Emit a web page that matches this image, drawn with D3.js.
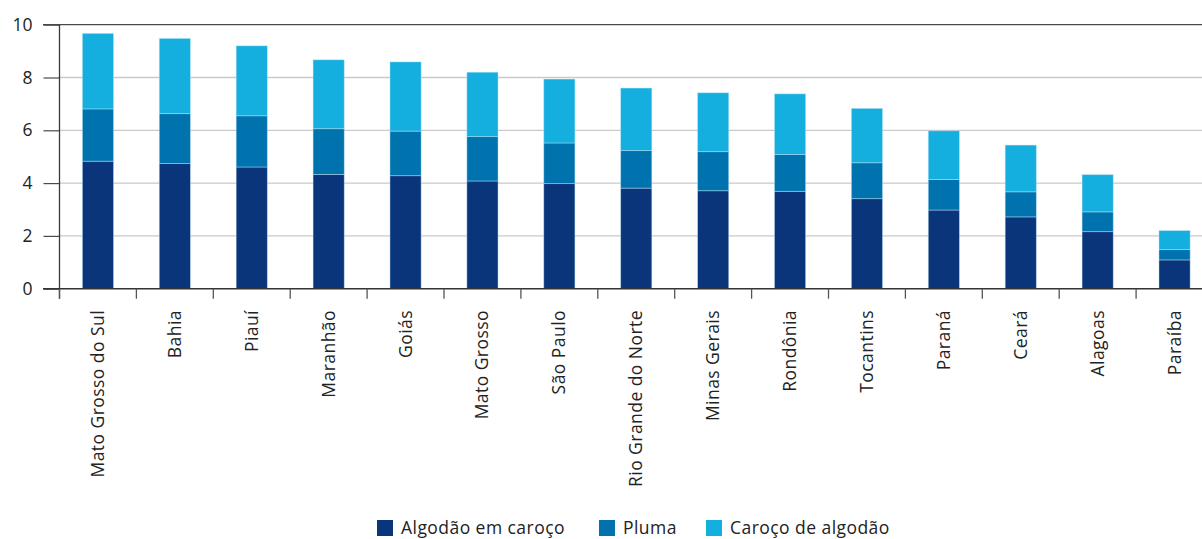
<!DOCTYPE html>
<html>
<head>
<meta charset="utf-8">
<script src="https://cdn.jsdelivr.net/npm/d3@7"></script>
<style>
  html, body { margin: 0; padding: 0; background: #fff; }
  svg { display: block; font-family: "Open Sans", "Noto Sans", sans-serif; }
</style>
</head>
<body>
<svg id="chart" width="1202" height="539"></svg>
<script>
const categories = ["Mato Grosso do Sul", "Bahia", "Piauí", "Maranhão", "Goiás", "Mato Grosso", "São Paulo", "Rio Grande do Norte", "Minas Gerais", "Rondônia", "Tocantins", "Paraná", "Ceará", "Alagoas", "Paraíba"];
const algodaoEmCaroco = [4.83, 4.74, 4.61, 4.33, 4.28, 4.08, 3.98, 3.81, 3.71, 3.69, 3.41, 2.98, 2.72, 2.16, 1.09];
const pluma = [1.98, 1.89, 1.94, 1.73, 1.69, 1.68, 1.54, 1.42, 1.48, 1.39, 1.36, 1.16, 0.95, 0.75, 0.39];
const carocoDeAlgodao = [2.86, 2.85, 2.65, 2.61, 2.62, 2.44, 2.42, 2.37, 2.23, 2.30, 2.06, 1.84, 1.77, 1.41, 0.72];
const seriesNames = ["Algodão em caroço", "Pluma", "Caroço de algodão"];
const seriesColors = ["#0b357b", "#0073ae", "#14afde"];
const yTicks = [0, 2, 4, 6, 8, 10];

const svg = d3.select("#chart");
const W = 1202;
const mLeft = 59.5, mTop = 24.7, mBottom = 288.7;

const data = categories.map((c, i) => ({
  cat: c,
  [seriesNames[0]]: algodaoEmCaroco[i],
  [seriesNames[1]]: pluma[i],
  [seriesNames[2]]: carocoDeAlgodao[i]
}));
const stack = d3.stack().keys(seriesNames)(data);

const x = d3.scaleBand().domain(categories).range([mLeft, mLeft + 15 * 76.9]).paddingInner(0).paddingOuter(0);
const y = d3.scaleLinear().domain([0, 10]).range([mBottom, mTop]);
const barW = x.bandwidth() * 0.405;

// gridlines
svg.append("g").selectAll("line").data(yTicks.filter(t => t > 0 && t < 10)).join("line")
  .attr("x1", mLeft).attr("x2", W).attr("y1", d => y(d)).attr("y2", d => y(d))
  .attr("stroke", "#c9c9c9").attr("stroke-width", 1.3);
// top line
svg.append("line").attr("x1", 43).attr("x2", W).attr("y1", y(10)).attr("y2", y(10))
  .attr("stroke", "#4a4a4a").attr("stroke-width", 1.2);

// bars
svg.append("g").selectAll("g").data(stack).join("g")
  .attr("fill", (d, i) => seriesColors[i])
  .selectAll("rect").data(d => d).join("rect")
  .attr("x", d => x(d.data.cat) + x.bandwidth() / 2 - barW / 2)
  .attr("width", barW)
  .attr("y", d => y(d[1]))
  .attr("height", d => y(d[0]) - y(d[1]))
  .attr("stroke", "rgba(190,230,245,0.55)").attr("stroke-width", 0.8);

// y axis
const yAxis = d3.axisLeft(y).tickValues(yTicks).tickSize(16).tickPadding(11).tickFormat(d3.format("d"));
const gy = svg.append("g").attr("transform", `translate(${mLeft},0)`).call(yAxis);
gy.select(".domain").remove();
gy.selectAll(".tick line").attr("stroke", "#4a4a4a").attr("stroke-width", 1.2);
gy.selectAll(".tick text").attr("font-size", 17.5).attr("fill", "#222").attr("font-family", "Open Sans");
svg.append("line").attr("x1", mLeft).attr("x2", mLeft).attr("y1", mTop).attr("y2", mBottom + 10)
  .attr("stroke", "#3a3a3a").attr("stroke-width", 1.3);

// x axis baseline
svg.append("line").attr("x1", 43).attr("x2", W).attr("y1", mBottom).attr("y2", mBottom)
  .attr("stroke", "#333").attr("stroke-width", 1.5);
// x boundary ticks
svg.append("g").selectAll("line").data(categories).join("line")
  .attr("x1", d => x(d)).attr("x2", d => x(d))
  .attr("y1", mBottom).attr("y2", mBottom + 10)
  .attr("stroke", "#555").attr("stroke-width", 1.3);

// category labels
svg.append("g").selectAll("text").data(categories).join("text")
  .attr("transform", d => `translate(${x(d) + x.bandwidth() / 2 + 6},310) rotate(-90)`)
  .attr("text-anchor", "end")
  .attr("font-size", 17.5).attr("letter-spacing", 0.45).attr("fill", "#222")
  .text(d => d);

// legend
const legendX = [377, 599, 706];
const lg = svg.append("g").selectAll("g").data(seriesNames).join("g")
  .attr("transform", (d, i) => `translate(${legendX[i]},520)`);
lg.append("rect").attr("width", 16).attr("height", 16).attr("fill", (d, i) => seriesColors[i]);
lg.append("text").attr("x", 24).attr("y", 14).attr("font-size", 17.5).attr("letter-spacing", 0.45).attr("fill", "#222").text(d => d);
</script>
</body>
</html>
